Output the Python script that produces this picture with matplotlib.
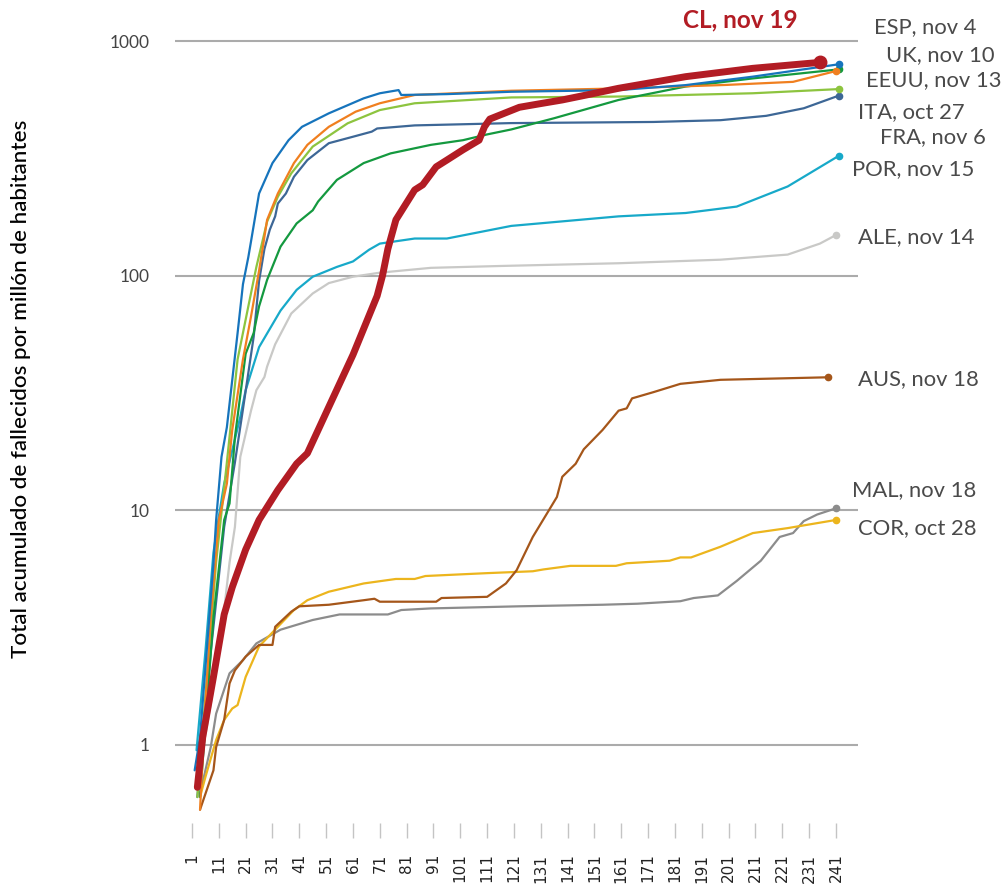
import numpy as np
import matplotlib
matplotlib.use("Agg")
import matplotlib.pyplot as plt

# dias desde el primer fallecido por millon, total acumulado por millon
cl_days = [3, 5, 9, 13, 16, 21, 26, 33, 40, 44, 52, 61, 70, 72, 74, 77, 84, 87, 92, 96,
           102, 108, 110, 112, 123, 130, 139, 148, 160, 185, 210, 235]
cl_vals = [0.66, 1.08, 1.95, 3.6, 4.7, 6.8, 9.1, 12.2, 15.8, 17.5, 27.6, 46, 82, 100, 130, 173,
           232, 244, 291, 311, 344, 378, 431, 465, 522, 539, 561, 589, 629, 705, 765, 811]

esp_days = [2, 4, 9, 10, 12, 14, 18, 20, 22, 23, 26, 31, 37, 42, 52, 65, 71, 78, 79, 96,
            120, 160, 185, 210, 242]
esp_vals = [0.78, 1.08, 5.9, 9.1, 16.9, 22.6, 57, 92, 120, 140, 224, 302, 378, 431, 492, 570,
            599, 618, 589, 594, 608, 618, 649, 705, 796]

uk_days = [4, 6, 8, 11, 14, 16, 20, 23, 26, 29, 33, 39, 44, 52, 62, 71, 84, 120, 160, 200,
           225, 241]
uk_vals = [0.53, 1.5, 3.5, 9.1, 13, 22, 44, 67, 105, 173, 224, 302, 361, 431, 500, 543, 589,
           614, 628, 650, 670, 745]

eeuu_days = [4, 9, 13, 15, 17, 21, 24, 26, 29, 34, 40, 46, 48, 55, 65, 75, 90, 102, 111, 120,
             136, 160, 185, 210, 242]
eeuu_vals = [0.6, 3.5, 9.1, 10.7, 20.5, 46.5, 57, 74, 96, 133, 167, 190, 207, 256, 302, 332,
             361, 378, 400, 420, 469, 561, 640, 693, 757]

ita_days = [3, 6, 10, 14, 18, 22, 25, 29, 33, 38, 46, 59, 71, 84, 120, 160, 210, 242]
ita_vals = [0.6, 1.6, 6, 16, 44, 74, 109, 170, 217, 273, 355, 446, 508, 543, 575, 580, 599, 624]

fra_days = [3, 8, 13, 17, 20, 24, 26, 28, 30, 32, 33, 36, 39, 44, 52, 61, 68, 70, 84, 120,
            173, 198, 215, 229, 242]
fra_vals = [0.6, 2.5, 8.5, 16, 27, 55, 95, 130, 157, 179, 203, 224, 264, 311, 367, 391, 411,
            424, 437, 447, 452, 460, 480, 517, 585]

por_days = [2.7, 6, 9, 11, 13, 19, 21, 26, 34, 40, 46, 55, 61, 67, 71, 84, 96, 120, 160, 185,
            204, 223, 242]
por_vals = [0.95, 2.5, 6.6, 9.4, 13, 25, 32.5, 49.6, 71, 87, 99, 109, 115, 129, 137, 144, 144,
            163, 179, 185, 197, 240, 324]

ale_days = [3, 8, 12, 15, 17, 19, 23, 25, 28, 29, 32, 38, 46, 52, 61, 71, 90, 116, 160, 198,
            223, 235, 241]
ale_vals = [0.7, 1.5, 3.0, 6, 8.5, 16.9, 26.6, 32.5, 37, 41, 51, 69, 84, 93, 99, 103, 108,
            110, 113, 117, 123, 137, 149]

aus_days = [4, 9, 10, 13, 15, 17, 21, 26, 31, 32, 38, 41, 52, 65, 69, 71, 92, 94, 111, 118,
            122, 128, 134, 137, 139, 144, 147, 154, 160, 163, 165, 173, 183, 198, 238]
aus_vals = [0.53, 0.78, 0.98, 1.28, 1.83, 2.08, 2.38, 2.67, 2.67, 3.19, 3.7, 3.9, 3.96, 4.14,
            4.2, 4.08, 4.08, 4.23, 4.28, 4.88, 5.56, 7.7, 10, 11.4, 13.9, 15.8, 18.2, 22, 26.6,
            27.2, 30, 31.9, 34.6, 36, 36.9]

mal_days = [4, 8, 10, 15, 20, 25, 34, 46, 56, 74, 79, 90, 123, 154, 167, 183, 188, 197, 204,
            213, 220, 225, 229, 234, 241]
mal_vals = [0.62, 0.98, 1.36, 2.02, 2.3, 2.71, 3.1, 3.41, 3.6, 3.6, 3.76, 3.82, 3.9, 3.96, 4.0,
            4.1, 4.23, 4.34, 5.0, 6.1, 7.7, 8.0, 9.0, 9.6, 10.2]

cor_days = [4, 6, 10, 13, 16, 18, 21, 26, 33, 39, 44, 52, 65, 77, 84, 88, 111, 128, 132, 142,
            159, 163, 179, 183, 187, 198, 210, 223, 241]
cor_vals = [0.6, 0.73, 1.05, 1.28, 1.43, 1.48, 1.95, 2.63, 3.19, 3.76, 4.14, 4.5, 4.88, 5.1,
            5.1, 5.25, 5.4, 5.5, 5.6, 5.8, 5.8, 5.95, 6.1, 6.3, 6.3, 7.0, 8.0, 8.4, 9.1]

labels = ["ESP, nov 4", "UK, nov 10", "EEUU, nov 13", "ITA, oct 27", "FRA, nov 6",
          "POR, nov 15", "ALE, nov 14", "AUS, nov 18", "MAL, nov 18", "COR, oct 28"]
cl_label = "CL, nov 19"

x_ticks = list(range(1, 242, 10))
y_ticks = [1, 10, 100, 1000]
y_ticklabels = ["1", "10", "100", "1000"]

# estilo
series = [
    (mal_days, mal_vals, "#8c8c8c"),
    (ale_days, ale_vals, "#c9c9c7"),
    (cor_days, cor_vals, "#ecb51d"),
    (aus_days, aus_vals, "#a5561a"),
    (por_days, por_vals, "#17a9c9"),
    (fra_days, fra_vals, "#3d6796"),
    (ita_days, ita_vals, "#8dc43f"),
    (eeuu_days, eeuu_vals, "#14993f"),
    (uk_days, uk_vals, "#f07f1f"),
    (esp_days, esp_vals, "#1674bc"),
]
# posicion de etiquetas (dia, valor)
label_pos = [(255.2, 1147), (259.7, 872), (252.2, 682), (249.2, 498), (257.4, 390),
             (247, 285), (249.2, 146), (249.2, 36.1), (247, 12.2), (249.2, 8.4)]

plt.rcParams['font.family'] = ['Lato', 'DejaVu Sans']

fig = plt.figure(figsize=(10.05, 8.9), dpi=100)
ax = fig.add_axes([0.1741, 0.0753, 0.6796, 0.9022])

ax.set_yscale('log')
ax.set_xlim(-5.34, 249.2)
ax.set_ylim(0.4652, 1229)

for days, vals, color in series:
    ax.plot(days, vals, color=color, lw=1.6, solid_capstyle='round', zorder=3)
    ax.plot(days[-1], vals[-1], 'o', color=color, ms=4.5, zorder=3)

ax.plot(cl_days, cl_vals, color="#b21c24", lw=5, solid_capstyle='round', zorder=5)
ax.plot(cl_days[-1], cl_vals[-1], 'o', color="#b21c24", ms=9, zorder=5)

ax.set_yticks(y_ticks)
ax.set_yticklabels(y_ticklabels)
ax.yaxis.set_minor_locator(matplotlib.ticker.NullLocator())
ax.grid(axis='y', color='#ababab', lw=1.5)
ax.set_axisbelow(True)
ax.tick_params(axis='y', length=0, pad=18, labelsize=12.5, labelcolor='#444444')

ax.set_xticks(x_ticks)
ax.set_xticklabels([str(t) for t in x_ticks], rotation=90, family='DejaVu Sans')
ax.tick_params(axis='x', length=11, width=1, color='#c4c4c4', pad=11, labelsize=11,
               labelcolor='#222222')

for s in ax.spines.values():
    s.set_visible(False)

for text, (lx, ly) in zip(labels, label_pos):
    ax.text(lx, ly, text, fontsize=15.8, color='#4a4a4a', va='center', ha='left', clip_on=False)
ax.text(184, 1229, cl_label, fontsize=17.5, color="#b21c24", fontweight='bold',
        va='center', ha='left', clip_on=False)

fig.text(0.021, 0.5635, "Total acumulado de fallecidos por millón de habitantes",
         rotation=90, fontsize=16.2, color='black', fontweight='medium',
         va='center', ha='center')

fig.savefig("out.png", dpi=100)
